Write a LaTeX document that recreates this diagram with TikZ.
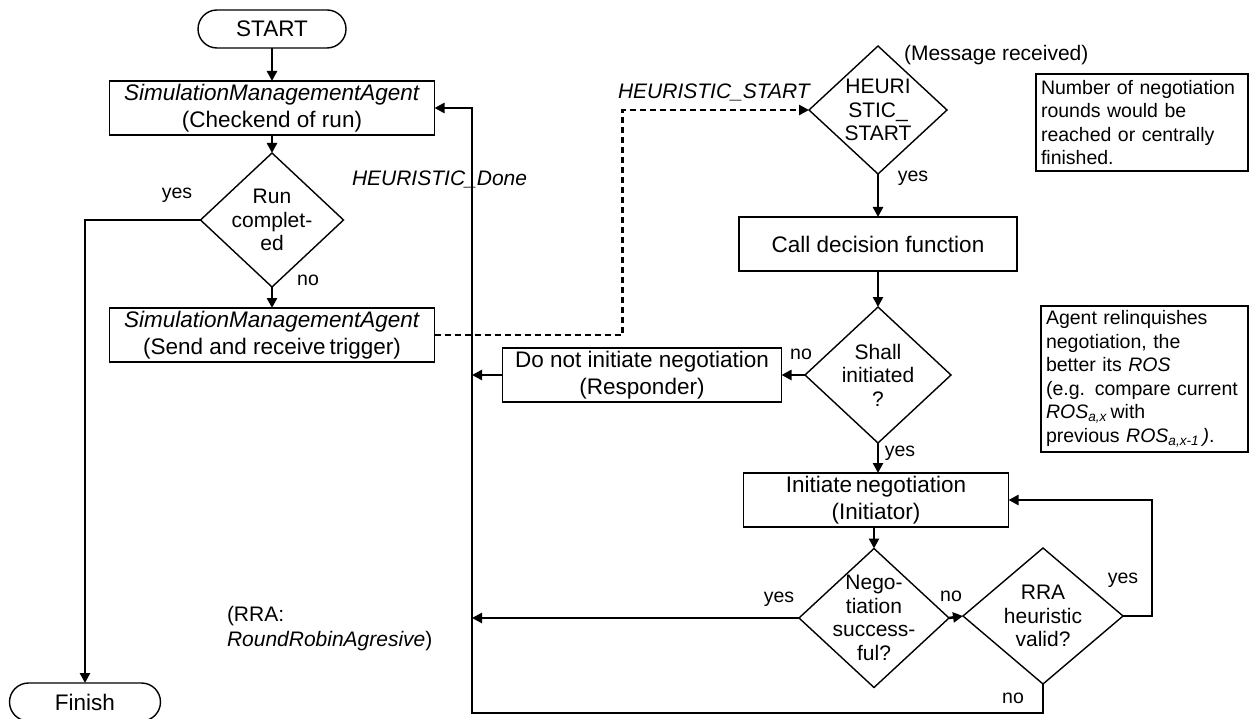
\documentclass[tikz,border=0pt]{standalone}
\usepackage{fontspec}
\setmainfont{Liberation Sans}
\usetikzlibrary{shapes.geometric,shapes.misc,arrows.meta}
\begin{document}
\begin{tikzpicture}[x=1pt,y=-1pt,
  every node/.style={inner sep=0pt, outer sep=0pt},
  box/.style={draw, line width=1.4pt, minimum height=54pt, align=center,
    font=\fontsize{22.5}{27}\selectfont},
  term/.style={draw, rounded rectangle, line width=1.4pt, minimum height=38pt,
    font=\fontsize{22.5}{27}\selectfont},
  dec/.style={draw, diamond, line width=1.4pt},
  dtxt/.style={align=center, font=\fontsize{21}{23.5}\selectfont},
  lbl/.style={font=\fontsize{19.5}{23}\selectfont},
  msgtxt/.style={font=\fontsize{21}{25}\selectfont},
  note/.style={draw, line width=1.4pt, align=left, anchor=north west,
    inner xsep=5pt, inner ysep=2pt, font=\fontsize{19.5}{23.5}\selectfont},
  flow/.style={line width=2.5pt, -{Triangle[length=10pt,width=10pt]}},
  msg/.style={line width=2.5pt, dash pattern=on 6pt off 4pt,
    -{Triangle[length=10pt,width=10pt]}},
]
\useasboundingbox (0,0) rectangle (1249,719);

% left column: run control
\node[term, minimum width=148pt] (start) at (272,29) {START};
\node[box, minimum width=325pt] (sma1) at (272,108)
  {\textit{SimulationManagementAgent}\\(Checkend of run)};
\node[dec, minimum width=143pt, minimum height=134pt,
  label={[dtxt]center:Run\\complet-\\ed}] (d1) at (272,220) {};
\node[box, minimum width=325pt] (sma2) at (272,335)
  {\textit{SimulationManagementAgent}\\(Send and receive\,trigger)};
\node[term, minimum width=151pt] (finish) at (85,702) {Finish};

% right column: agent heuristic
\node[dec, minimum width=138pt, minimum height=128pt,
  label={[dtxt]center:HEURI\\STIC\_\\START}] (hs) at (878,110) {};
\node[box, minimum width=278pt] (call) at (878,244) {Call decision function};
\node[dec, minimum width=146pt, minimum height=136pt,
  label={[dtxt]center:Shall\\initiated\\?}] (shall) at (878,375) {};
\node[box, minimum width=279pt] (resp) at (642,375)
  {Do not initiate negotiation\\(Responder)};
\node[box, minimum width=265pt] (init) at (876,500)
  {Initiate\,negotiation\\(Initiator)};
\node[dec, minimum width=150pt, minimum height=139pt,
  label={[dtxt]center:Nego-\\tiation\\success-\\ful?}] (nego) at (874,618) {};
\node[dec, minimum width=160pt, minimum height=136pt,
  label={[dtxt]center:RRA\\heuristic\\valid?}] (rra) at (1043,616) {};

% notes
\node[note, minimum width=212pt, minimum height=97pt, text width=202pt] (note1) at (1036,74)
  {Number of negotiation\\rounds would be\\reached or centrally\\finished.};
\node[note, minimum width=207pt, minimum height=146pt, text width=197pt] (note2) at (1041,306)
  {Agent relinquishes\\negotiation, the\\better its \textit{ROS}\\(e.g. compare current\\
   \textit{ROS}\textsubscript{\textit{a,x}}\,with\\previous \textit{ROS}\textsubscript{\textit{a,x-1}}\,\textit{)}.};

% free texts
\node[msgtxt, anchor=west] (msgrec) at (904,55) {(Message received)};
\node[msgtxt, anchor=east] (hstart) at (811,92) {\textit{HEURISTIC\_START}};
\node[msgtxt, anchor=west] (hdone) at (352,179) {\textit{HEURISTIC\_Done}};
\node[msgtxt, anchor=west, align=left] (rranote) at (227,629)
  {(RRA:\\\textit{RoundRobinAgresive})};

% branch labels
\node[lbl] (y1) at (177,195) {yes};
\node[lbl] (n1) at (308,280) {no};
\node[lbl] (y2) at (913,178) {yes};
\node[lbl] (n2) at (801,354) {no};
\node[lbl] (y3) at (900,453) {yes};
\node[lbl] (y4) at (779,599) {yes};
\node[lbl] (n4) at (951,596) {no};
\node[lbl] (y5) at (1123,580) {yes};
\node[lbl] (n5) at (1013,698) {no};

% return bus
\coordinate (ret) at (472,713);

% connectors
\draw[flow] (start) -- (sma1);
\draw[flow] (sma1) -- (d1);
\draw[flow] (d1) -- (sma2);
\draw[flow] (d1.west) -| (finish.north);
\draw[msg] (sma2.east) -- ++(188,0) |- (hs.west);
\draw[flow] (hs.south) -- (call.north);
\draw[flow] (call.south) -- (shall.north);
\draw[flow] (shall.west) -- (resp.east);
\draw[flow] (resp.west) -- (resp.west -| ret);
\draw[flow] (shall.south) -- (init.north -| shall.south);
\draw[flow] (init.south -| nego.north) -- (nego.north);
\draw[flow] (nego.west) -- (nego.west -| ret);
\draw[flow] (nego.east) -- (rra.west);
\draw[flow] (rra.east) -- ++(29,0) |- (init.east);
\draw[flow] (rra.south) |- (ret) |- (sma1.east);
\end{tikzpicture}
\end{document}
